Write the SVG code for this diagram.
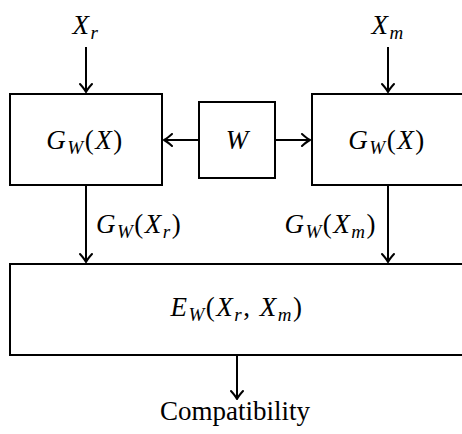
<svg xmlns="http://www.w3.org/2000/svg" width="462" height="434" viewBox="0 0 462 434">
<defs>
<style>
.box{fill:#fff;stroke:#000;stroke-width:2}
.ln{fill:none;stroke:#000;stroke-width:2;marker-end:url(#ah)}
text{font-family:"Liberation Serif","Times New Roman",serif;font-size:27px;fill:#000}
.m{letter-spacing:1.5px}
.i{font-style:italic}
.s{font-style:italic;font-size:19px}
</style>
<marker id="ah" markerUnits="userSpaceOnUse" markerWidth="14" markerHeight="14" viewBox="-10 -7 12 14" refX="0" refY="0" orient="auto">
<path d="M-8,-6 Q-3,-1.5 0,0 Q-3,1.5 -8,6" fill="none" stroke="#000" stroke-width="2" stroke-linecap="round" stroke-linejoin="round"/>
</marker>
</defs>
<rect width="462" height="434" fill="#fff"/>
<g id="connectors">
<line class="ln" x1="86" y1="47" x2="86" y2="92"/>
<line class="ln" x1="388" y1="47" x2="388" y2="92"/>
<line class="ln" x1="199" y1="140" x2="164" y2="140"/>
<line class="ln" x1="275" y1="140" x2="310" y2="140"/>
<line class="ln" x1="86" y1="185" x2="86" y2="262"/>
<line class="ln" x1="388" y1="185" x2="388" y2="262"/>
<line class="ln" x1="237" y1="355" x2="237" y2="399"/>
</g>
<g id="input-r"><text class="m" x="86" y="34" text-anchor="middle"><tspan class="i">X</tspan><tspan class="s" dy="5">r</tspan></text></g>
<g id="input-m"><text class="m" x="388" y="34" text-anchor="middle"><tspan class="i">X</tspan><tspan class="s" dy="5">m</tspan></text></g>
<g id="g-left"><rect class="box" x="10" y="94" width="152" height="91"/>
<text class="m" x="85" y="149" text-anchor="middle"><tspan class="i">G</tspan><tspan class="s" dy="5">W</tspan><tspan dy="-5">(</tspan><tspan class="i">X</tspan>)</text></g>
<g id="w"><rect class="box" x="199" y="102" width="76" height="76"/>
<text x="237" y="149" text-anchor="middle" class="i">W</text></g>
<g id="g-right"><rect class="box" x="312" y="94" width="160" height="91"/>
<text class="m" x="387" y="149" text-anchor="middle"><tspan class="i">G</tspan><tspan class="s" dy="5">W</tspan><tspan dy="-5">(</tspan><tspan class="i">X</tspan>)</text></g>
<g id="label-r"><text class="m" x="96" y="233"><tspan class="i">G</tspan><tspan class="s" dy="5">W</tspan><tspan dy="-5">(</tspan><tspan class="i">X</tspan><tspan class="s" dy="5">r</tspan><tspan dy="-5">)</tspan></text></g>
<g id="label-m"><text class="m" x="377" y="233" text-anchor="end"><tspan class="i">G</tspan><tspan class="s" dy="5">W</tspan><tspan dy="-5">(</tspan><tspan class="i">X</tspan><tspan class="s" dy="5">m</tspan><tspan dy="-5">)</tspan></text></g>
<g id="e"><rect class="box" x="10" y="264" width="462" height="91"/>
<text class="m" x="237" y="316" text-anchor="middle"><tspan class="i">E</tspan><tspan class="s" dy="5">W</tspan><tspan dy="-5">(</tspan><tspan class="i">X</tspan><tspan class="s" dy="5">r</tspan><tspan dy="-5">, </tspan><tspan class="i">X</tspan><tspan class="s" dy="5">m</tspan><tspan dy="-5">)</tspan></text></g>
<g id="out"><text x="235" y="420" text-anchor="middle" font-size="27">Compatibility</text></g>
</svg>
